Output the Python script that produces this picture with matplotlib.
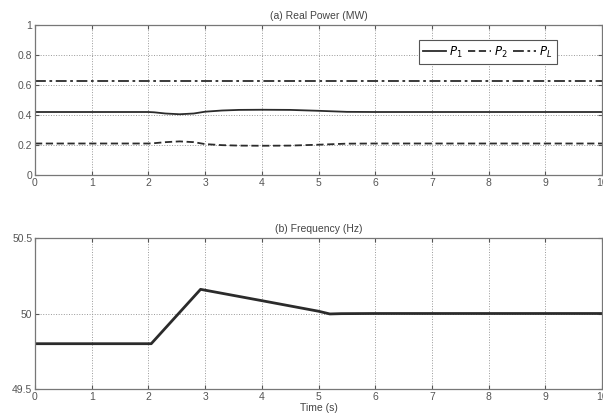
import numpy as np
import matplotlib.pyplot as plt

# (a) real power, MW
t_p = [0, 2.0, 2.1, 2.3, 2.55, 2.8, 3.0, 3.3, 3.6, 4.0, 4.5, 5.0, 5.5, 6.0, 10]
p1 = [0.42, 0.42, 0.418, 0.41, 0.405, 0.41, 0.422, 0.43, 0.434, 0.435, 0.434, 0.428, 0.421, 0.42, 0.42]
p2 = [0.21, 0.21, 0.212, 0.219, 0.224, 0.219, 0.206, 0.199, 0.196, 0.195, 0.196, 0.202, 0.209, 0.21, 0.21]
pl = [0.625, 0.625]
t_pl = [0, 10]

# (b) frequency, Hz
t_f = [0, 2.05, 2.92, 4.0, 5.0, 5.2, 5.4, 6.0, 10]
freq = [49.8, 49.8, 50.16, 50.085, 50.015, 49.997, 49.999, 50.0, 50.0]

plt.rcParams['font.family'] = ['Liberation Sans', 'DejaVu Sans']
fig = plt.figure(figsize=(6.03, 4.2), dpi=100)
ax1 = fig.add_axes([35/603, 1-175/420, 567/603, 150/420])
ax2 = fig.add_axes([35/603, 1-389/420, 567/603, 151/420])

lc = '#2b2b2b'
ax1.plot(t_p, p1, color=lc, lw=1.3, label='$P_1$')
ax1.plot(t_p, p2, color=lc, lw=1.3, ls=(0, (4, 2)), label='$P_2$')
ax1.plot(t_pl, pl, color=lc, lw=1.3, ls=(0, (6, 2, 1.5, 2)), label='$P_L$')
ax1.set_ylim(0, 1)
ax1.set_yticks([0, 0.2, 0.4, 0.6, 0.8, 1])
ax1.set_yticklabels(['0', '0.2', '0.4', '0.6', '0.8', '1'])
ax1.set_title('(a) Real Power (MW)', fontsize=7.5, color='#444444', pad=4)
leg = ax1.legend(loc='upper right', bbox_to_anchor=(0.931, 0.94), ncol=3, fontsize=8.5,
                 handlelength=1.9, handletextpad=0.3, columnspacing=0.45,
                 fancybox=False, framealpha=1, borderpad=0.4)
leg.get_frame().set_edgecolor('#555555')
leg.get_frame().set_linewidth(0.8)

ax2.plot(t_f, freq, color=lc, lw=2.0)
ax2.set_ylim(49.5, 50.5)
ax2.set_yticks([49.5, 50, 50.5])
ax2.set_yticklabels(['49.5', '50', '50.5'])
ax2.set_title('(b) Frequency (Hz)', fontsize=7.5, color='#444444', pad=4)
ax2.set_xlabel('Time (s)', fontsize=7.5, color='#444444', labelpad=1)

for ax in (ax1, ax2):
    ax.set_xlim(0, 10)
    ax.set_xticks(range(11))
    ax.grid(True, ls=':', color='#999999', lw=0.7)
    ax.tick_params(direction='in', labelsize=7.5, colors='#555555', length=3,
                   top=True, right=True, pad=2)
    for s in ax.spines.values():
        s.set_color('#777777')
        s.set_linewidth(0.9)

fig.savefig('out.png', dpi=100)
